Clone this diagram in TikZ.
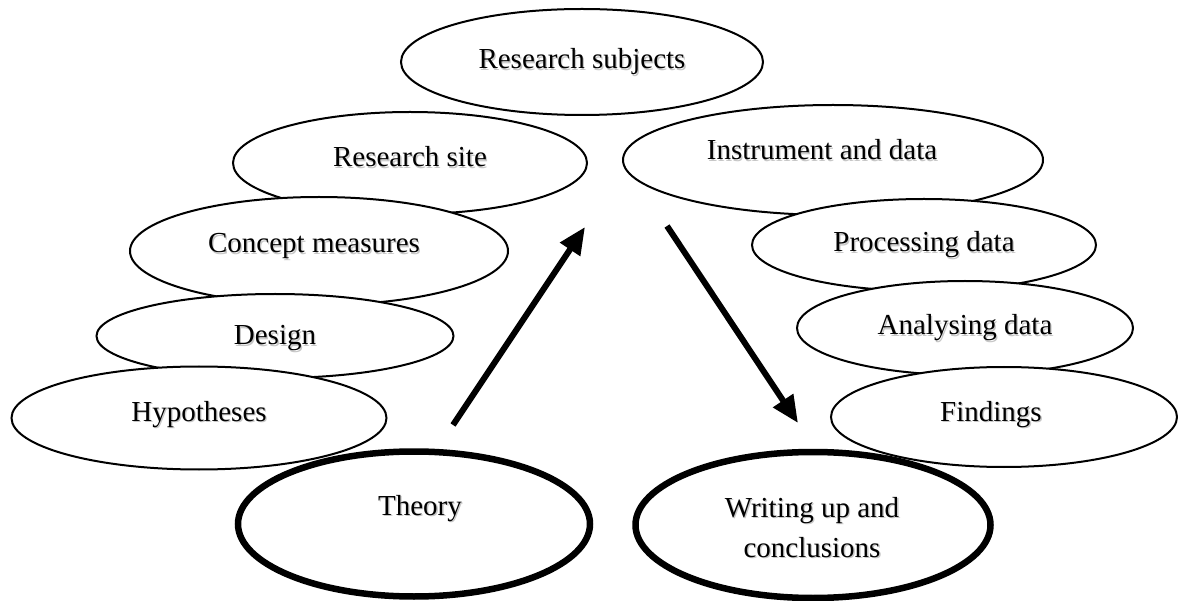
\documentclass[tikz,border=0pt]{standalone}
\usepackage{fontspec}
\setmainfont{Liberation Serif}
\usetikzlibrary{shapes.geometric,arrows.meta}

% text with a soft grey drop shadow behind it
\newcommand\shd[1]{\makebox[0pt][l]{\hspace{1.3pt}\raisebox{-1.3pt}{\textcolor{black!22}{#1}}}#1}

\begin{document}
\begin{tikzpicture}[x=1pt,y=-1pt,
  oval/.style={ellipse, draw=black, fill=white, line width=2pt, inner sep=0pt},
  bold oval/.style={oval, line width=6.5pt},
  lbl/.style={anchor=base, inner sep=0pt, font=\fontsize{29}{36}\selectfont},
  flow/.style={line width=6pt, -{Triangle[length=27pt,width=23pt]}}]
\useasboundingbox (0,0) rectangle (1178,601);

% ovals, back to front
\node[oval, minimum width=362pt, minimum height=106pt] (subjects) at (582,62) {};
\node[oval, minimum width=354pt, minimum height=102pt] (site) at (410,163) {};
\node[oval, minimum width=420pt, minimum height=110pt] (instrument) at (833,160) {};
\node[oval, minimum width=378pt, minimum height=108pt] (concept) at (319,251) {};
\node[oval, minimum width=344pt, minimum height=92pt] (processing) at (924,245) {};
\node[oval, minimum width=357pt, minimum height=84pt] (design) at (275,336) {};
\node[oval, minimum width=336pt, minimum height=94pt] (analysing) at (965,328) {};
\node[oval, minimum width=375pt, minimum height=103pt] (hypotheses) at (199,418) {};
\node[oval, minimum width=346pt, minimum height=100pt] (findings) at (1004,417) {};
\node[bold oval, minimum width=352pt, minimum height=145pt] (theory) at (414,524) {};
\node[bold oval, minimum width=355pt, minimum height=146pt] (writing) at (813,525) {};

% labels
\node[lbl] (subjects-t) at (582,69) {\shd{Research subjects}};
\node[lbl] (site-t) at (410,167) {\shd{Research site}};
\node[lbl] (instrument-t) at (822,160) {\shd{Instrument and data}};
\node[lbl] (concept-t) at (314,253) {\shd{Concept measures}};
\node[lbl] (processing-t) at (924,252) {\shd{Processing data}};
\node[lbl] (design-t) at (275,345) {\shd{Design}};
\node[lbl] (analysing-t) at (965,335) {\shd{Analysing data}};
\node[lbl] (hypotheses-t) at (199,421) {\shd{Hypotheses}};
\node[lbl] (findings-t) at (991,421) {\shd{Findings}};
\node[lbl] (theory-t) at (420,515) {\shd{Theory}};
\node[lbl] (writing-t1) at (812,517) {\shd{Writing up and}};
\node[lbl] (writing-t2) at (812,557) {\shd{conclusions}};

% flow arrows
\coordinate (up-start) at (453,425);
\coordinate (up-end) at (585,227);
\coordinate (down-start) at (667,226);
\coordinate (down-end) at (798,423);
\draw[flow] (up-start) -- (up-end);
\draw[flow] (down-start) -- (down-end);
\end{tikzpicture}
\end{document}
